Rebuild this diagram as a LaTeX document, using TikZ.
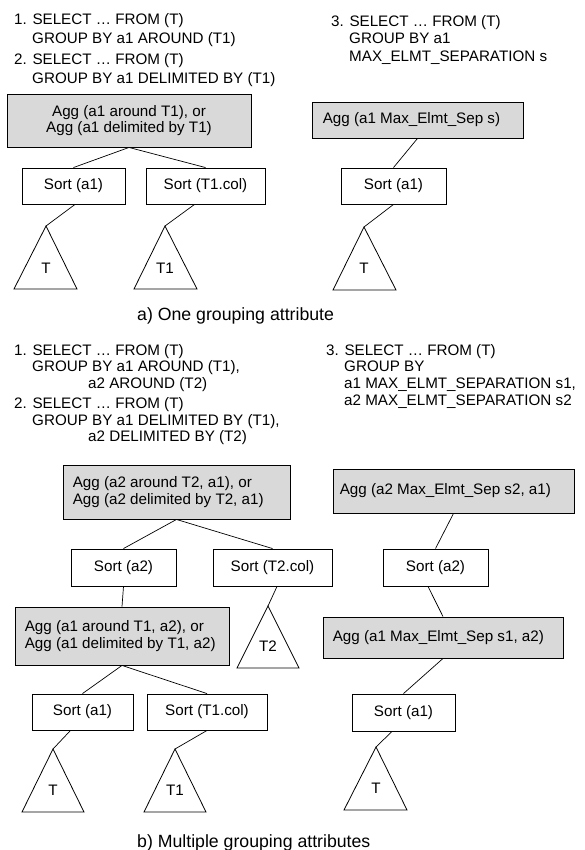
\documentclass[tikz,border=0pt]{standalone}
\usepackage{fontspec}
\setmainfont{Liberation Sans}
\definecolor{aggfill}{RGB}{217,217,217}
\begin{document}
\begin{tikzpicture}[x=1pt,y=-1pt,
  every node/.style={font=\fontsize{15.2}{16.8}\selectfont},
  txt/.style={anchor=base west,inner sep=0pt},
  captxt/.style={anchor=base west,inner sep=0pt,font=\fontsize{17.7}{20}\selectfont},
  opbox/.style={draw,line width=0.9pt,inner sep=0pt,minimum height=36pt},
  aggbox/.style={opbox,fill=aggfill},
  boxtxt/.style={anchor=west,inner sep=0pt,align=left},
  link/.style={line width=0.7pt},
  tri/.style={draw,line width=0.8pt,line join=miter},
  lbl/.style={inner sep=0pt}]
\useasboundingbox (0,0) rectangle (585,850);
% ---------------- a) ----------------
\node[txt] (q1a) at (14,25) {1. SELECT … FROM (T)};
\node[txt] (q1b) at (32,43.3) {GROUP BY a1 AROUND (T1)};
\node[txt] (q2a) at (14,65) {2. SELECT … FROM (T)};
\node[txt] (q2b) at (32,83.3) {GROUP BY a1 DELIMITED BY (T1)};
\node[txt] (q3a) at (331,26.5) {3. SELECT … FROM (T)};
\node[txt] (q3b) at (349,43.8) {GROUP BY a1};
\node[txt] (q3c) at (349,61.5) {MAX\_ELMT\_SEPARATION s};

\node[aggbox,minimum width=244pt,minimum height=53pt,align=center] (agg1) at (129,120.5)
  {Agg (a1 around T1), or\\Agg (a1 delimited by T1)};
\node[opbox,minimum width=103pt] (sA1) at (73.5,186) {Sort (a1)};
\node[opbox,minimum width=119pt] (sAT1) at (205.5,186) {Sort (T1.col)};
\coordinate (tA) at (46,226);
\draw[tri] (tA) -- (14,289) -- (77,289) -- cycle;
\node[lbl] (tAl) at (46,268) {T};
\coordinate (tAT1) at (165,226);
\draw[tri] (tAT1) -- (134,289) -- (197,289) -- cycle;
\node[lbl] (tAT1l) at (165,268) {T1};
\draw[link] (agg1.south) -- (sA1.north);
\draw[link] (agg1.south) -- (sAT1.north);
\draw[link] ([xshift=1.5pt]sA1.south) -- (tA);
\draw[link] ([xshift=-11pt]sAT1.south) -- (tAT1);

\node[aggbox,minimum width=211pt] (agg3) at (417.5,120) {};
\node[boxtxt] (agg3t) at ([xshift=11pt]agg3.west) {Agg (a1 Max\_Elmt\_Sep s)};
\node[opbox,minimum width=105pt] (s3) at (393.5,186) {Sort (a1)};
\coordinate (t3) at (364,227);
\draw[tri] (t3) -- (333,290) -- (396,290) -- cycle;
\node[lbl] (t3l) at (364,268) {T};
\draw[link] (agg3.south) -- (s3.north);
\draw[link] (s3.south) -- (t3);

\node[captxt] (capa) at (137,320) {a) One grouping attribute};

% ---------------- b) ----------------
\node[txt] (r1a) at (14,355) {1. SELECT … FROM (T)};
\node[txt] (r1b) at (32,371.7) {GROUP BY a1 AROUND (T1),};
\node[txt] (r1c) at (88,388.3) {a2 AROUND (T2)};
\node[txt] (r2a) at (14,408.3) {2. SELECT … FROM (T)};
\node[txt] (r2b) at (32,425) {GROUP BY a1 DELIMITED BY (T1),};
\node[txt] (r2c) at (88,441.7) {a2 DELIMITED BY (T2)};
\node[txt] (r3a) at (326,355) {3. SELECT … FROM (T)};
\node[txt] (r3b) at (344,371.7) {GROUP BY};
\node[txt] (r3c) at (344,388.3) {a1 MAX\_ELMT\_SEPARATION s1,};
\node[txt] (r3d) at (344,405) {a2 MAX\_ELMT\_SEPARATION s2};

\node[aggbox,minimum width=227pt,minimum height=54pt] (aB1) at (176.5,492) {};
\node[boxtxt] (aB1t) at ([xshift=10pt]aB1.west) {Agg (a2 around T2, a1), or\\Agg (a2 delimited by T2, a1)};
\node[opbox,minimum width=105pt,minimum height=37pt] (sB2) at (123.5,567.5) {Sort (a2)};
\node[opbox,minimum width=119pt,minimum height=37pt] (sBT2) at (272.5,567.5) {Sort (T2.col)};
\coordinate (tBT2) at (268,606);
\draw[tri] (tBT2) -- (237,668) -- (299,668) -- cycle;
\node[lbl] (tBT2l) at (268,646) {T2};
\node[aggbox,minimum width=214pt,minimum height=58pt] (aB2) at (122,636) {};
\node[boxtxt] (aB2t) at ([xshift=10pt]aB2.west) {Agg (a1 around T1, a2), or\\Agg (a1 delimited by T1, a2)};
\node[opbox,minimum width=101pt] (sB1) at (82.5,712) {Sort (a1)};
\node[opbox,minimum width=120pt] (sBT1) at (207,712) {Sort (T1.col)};
\coordinate (tB) at (53,749);
\draw[tri] (tB) -- (22,812) -- (84,812) -- cycle;
\node[lbl] (tBl) at (53,790) {T};
\coordinate (tBT1) at (175,749);
\draw[tri] (tBT1) -- (144,812) -- (206,812) -- cycle;
\node[lbl] (tBT1l) at (175,790) {T1};
\draw[link] (aB1.south) -- (sB2.north);
\draw[link] (aB1.south) -- (sBT2.north);
\draw[link] (sB2.south) -- (aB2.north);
\draw[link] ([xshift=4.5pt]sBT2.south) -- (tBT2);
\draw[link] (aB2.south) -- (sB1.north);
\draw[link] (aB2.south) -- (sBT1.north);
\draw[link] ([xshift=-12pt]sB1.south) -- (tB);
\draw[link] (sBT1.south) -- (tBT1);

\node[aggbox,minimum width=241pt,minimum height=44pt] (aR1) at (453.5,491) {};
\node[boxtxt] (aR1t) at ([xshift=7pt]aR1.west) {Agg (a2 Max\_Elmt\_Sep s2, a1)};
\node[opbox,minimum width=105pt,minimum height=37pt] (sR2) at (435.5,567.5) {Sort (a2)};
\node[aggbox,minimum width=240pt,minimum height=41pt] (aR2) at (443,637.5) {};
\node[boxtxt] (aR2t) at ([xshift=10pt]aR2.west) {Agg (a1 Max\_Elmt\_Sep s1, a2)};
\node[opbox,minimum width=103pt,minimum height=37pt] (sR1) at (403.5,712.5) {Sort (a1)};
\coordinate (tR) at (376,747);
\draw[tri] (tR) -- (344,810) -- (407,810) -- cycle;
\node[lbl] (tRl) at (376,788) {T};
\draw[link] (aR1.south) -- (sR2.north);
\draw[link] ([xshift=-7.5pt]sR2.south) -- (aR2.north);
\draw[link] (aR2.south) -- (sR1.north);
\draw[link] ([xshift=-11.5pt]sR1.south) -- (tR);

\node[captxt] (capb) at (137,847) {b) Multiple grouping attributes};
\end{tikzpicture}
\end{document}
